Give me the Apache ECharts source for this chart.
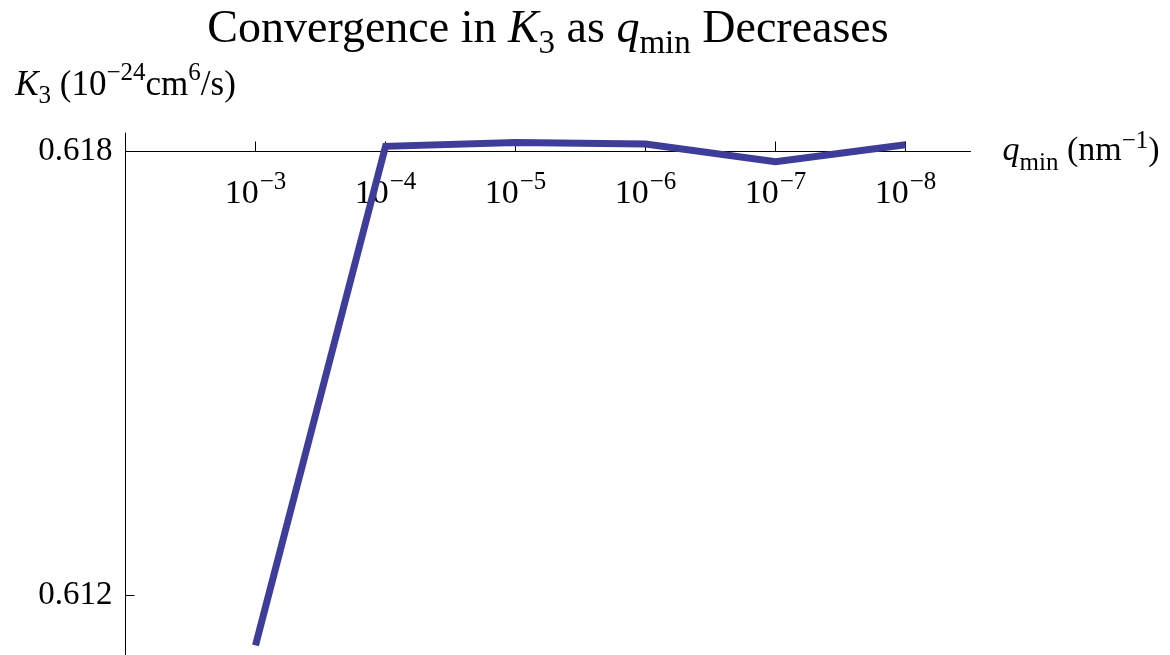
<!DOCTYPE html>
<html>
<head>
<meta charset="utf-8">
<script src="https://cdn.jsdelivr.net/npm/echarts@6/dist/echarts.min.js"></script>
<style>
  html, body { margin: 0; padding: 0; background: #fff; }
  #chart { width: 1170px; height: 655px; }
</style>
</head>
<body>
<div id="chart"></div>
<script>
// q_min values are powers of ten; store the (negative) exponents
const qExponents = [-3, -4, -5, -6, -7, -8];
// K3 in units of 1e-24 cm^6/s
const k3Values = [0.61132, 0.61807, 0.61812, 0.61810, 0.61786, 0.61809];
// y-axis tick values
const yTicks = [0.612, 0.618];

const FONT = '"Liberation Serif", "Times New Roman", serif';
const LINE_COLOR = '#3e3d99';

// position along the horizontal axis: 3 for 10^-3, 4 for 10^-4, ...
const xPositions = qExponents.map(e => -e);
const seriesData = xPositions.map((x, i) => [x, k3Values[i]]);

const X_MIN = 2, X_MAX = 8.5;
const Y_MIN = 0.61119, Y_MAX = 0.61825;

const chart = echarts.init(document.getElementById('chart'), null, { renderer: 'canvas' });

chart.setOption({
  backgroundColor: '#ffffff',
  animation: false,
  title: {
    text: 'Convergence in {i|K}{sub|3} as {i|q}{sub|min} Decreases',
    left: 543,
    top: 2,
    textAlign: 'center',
    textStyle: {
      fontFamily: FONT,
      fontSize: 46,
      fontWeight: 'normal',
      color: '#000',
      rich: {
        i: { fontFamily: FONT, fontSize: 46, fontStyle: 'italic', color: '#000' },
        sub: { fontFamily: FONT, fontSize: 33, color: '#000', verticalAlign: 'bottom', padding: [0, 0, -8, 0] }
      }
    }
  },
  grid: [
    // plotting area
    { left: 125.5, width: 845, top: 133, height: 522, containLabel: false },
    // strip whose bottom edge carries the horizontal axis at K3 = 0.618
    { left: 125.5, width: 845, top: 120, height: 31.5, containLabel: false }
  ],
  xAxis: [
    { gridIndex: 0, type: 'value', min: X_MIN, max: X_MAX, show: false },
    {
      gridIndex: 1, type: 'value', min: X_MIN, max: X_MAX, position: 'bottom',
      name: '{i|q}{sub|min} (nm{sup|−1})',
      nameLocation: 'end',
      nameGap: 32,
      nameTextStyle: {
        fontFamily: FONT, fontSize: 34, color: '#000', align: 'left', verticalAlign: 'middle',
        rich: {
          i: { fontFamily: FONT, fontSize: 34, fontStyle: 'italic', color: '#000' },
          sub: { fontFamily: FONT, fontSize: 25, color: '#000', verticalAlign: 'bottom', padding: [0, 0, -7, 0] },
          sup: { fontFamily: FONT, fontSize: 25, color: '#000', verticalAlign: 'top', padding: [-6, 0, 0, 0] }
        }
      },
      splitLine: { show: false },
      axisLine: { show: true, lineStyle: { color: '#000', width: 1 } },
      axisTick: {
        show: true, inside: true, length: 10,
        customValues: xPositions,
        lineStyle: { color: '#000', width: 1 }
      },
      axisLabel: {
        show: true,
        customValues: xPositions,
        margin: 26,
        formatter: v => '{b|10}{sup|−' + v + '}',
        rich: {
          b: { fontFamily: FONT, fontSize: 34, color: '#000' },
          sup: { fontFamily: FONT, fontSize: 25, color: '#000', verticalAlign: 'top', padding: [-8, 0, 0, 1] }
        }
      }
    }
  ],
  yAxis: [
    {
      gridIndex: 0, type: 'value', min: Y_MIN, max: Y_MAX,
      name: '{i|K}{sub|3} (10{sup|−24}cm{sup|6}/s)',
      nameLocation: 'end',
      nameGap: 30,
      nameTextStyle: {
        fontFamily: FONT, fontSize: 35, color: '#000', align: 'center',
        rich: {
          i: { fontFamily: FONT, fontSize: 35, fontStyle: 'italic', color: '#000' },
          sub: { fontFamily: FONT, fontSize: 25, color: '#000', verticalAlign: 'bottom', padding: [0, 0, -6, 0] },
          sup: { fontFamily: FONT, fontSize: 25, color: '#000', verticalAlign: 'top', padding: [-7, 0, 0, 0] }
        }
      },
      splitLine: { show: false },
      axisLine: { show: true, lineStyle: { color: '#000', width: 1 } },
      axisTick: {
        show: true, inside: true, length: 9,
        customValues: yTicks,
        lineStyle: { color: '#000', width: 1 }
      },
      axisLabel: {
        show: true,
        customValues: yTicks,
        margin: 13,
        formatter: v => v.toFixed(3),
        fontFamily: FONT, fontSize: 33, color: '#000'
      }
    },
    { gridIndex: 1, type: 'value', min: 0, max: 1, show: false }
  ],
  series: [
    {
      type: 'line',
      xAxisIndex: 0,
      yAxisIndex: 0,
      data: seriesData,
      showSymbol: false,
      symbol: 'none',
      clip: false,
      lineStyle: { color: LINE_COLOR, width: 7, cap: 'butt', join: 'miter' }
    }
  ]
});
</script>
</body>
</html>
